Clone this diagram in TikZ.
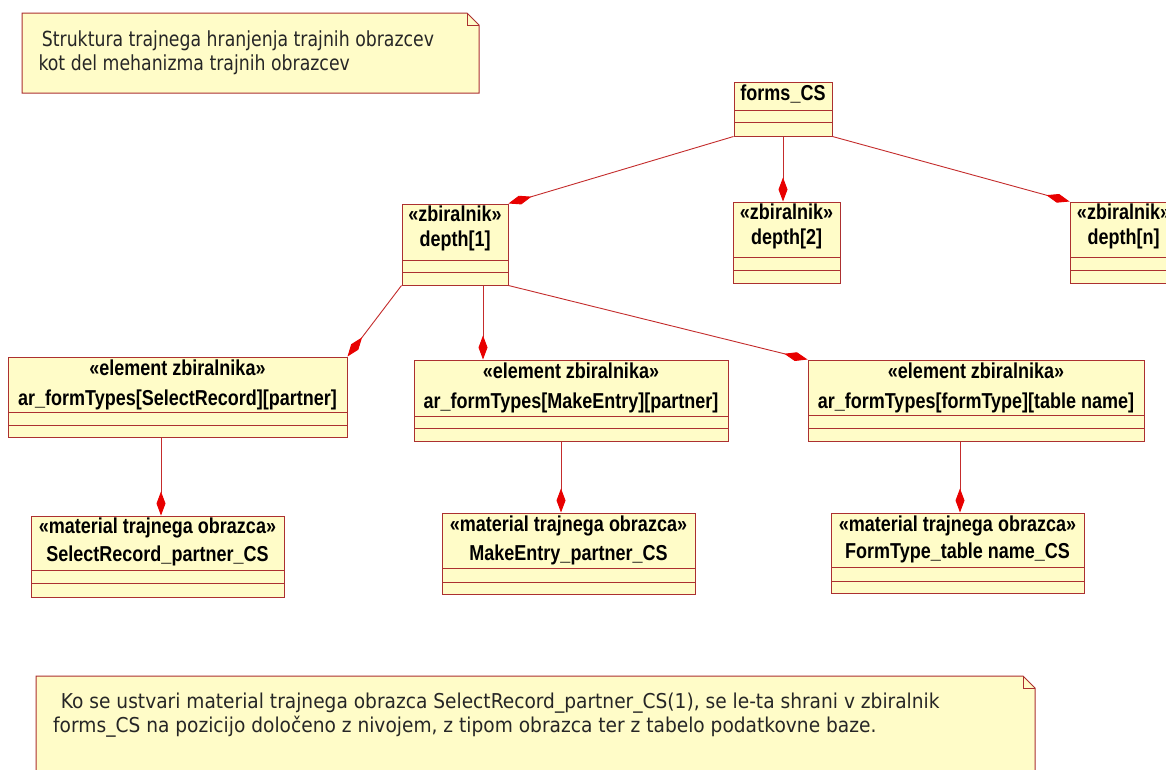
\documentclass[tikz,border=0pt]{standalone}
\usepackage{fontspec}
\usepackage{graphicx}
\setmainfont{DejaVu Sans}
\newfontfamily\umlfont{Liberation Sans}
\usetikzlibrary{arrows.meta,fit}

\definecolor{umlfill}{RGB}{255,252,200}
\definecolor{umlline}{RGB}{172,48,48}
\definecolor{linkred}{RGB}{196,44,44}
\definecolor{tipred}{RGB}{232,0,0}

% glyphs are drawn slightly taller than wide
\newcommand\tall[1]{\scalebox{1}[1.2]{#1}}
\newcommand\talllow[1]{\scalebox{1}[1.1]{#1}}

\tikzset{
  umlbox/.style={draw=umlline, fill=umlfill, line width=1pt, inner sep=0pt, rectangle},
  umlsep/.style={draw=umlline, line width=0.9pt},
  notebox/.style={draw=umlline, fill=umlfill, line width=1pt, line join=miter},
  notefold/.style={draw=umlline, line width=0.7pt},
  compo/.style={draw=linkred, line width=0.9pt,
    -{Diamond[length=24pt,width=9pt,color=tipred,fill=tipred]}},
  boxtext/.style={font=\umlfont\bfseries\fontsize{18}{22}\selectfont,
    inner sep=0pt, anchor=base, text=black},
  notetext/.style={font=\fontsize{17.3}{20}\selectfont,
    inner sep=0pt, anchor=base west, text=black!85},
  remarktext/.style={notetext, font=\fontsize{18.6}{22}\selectfont},
}

% class box: name, x1, y1, x2, y2, first and second compartment line
\newcommand\umlclass[7]{%
  \node[umlbox, fit={(#2,#3) (#4,#5)}] (#1) {};
  \draw[umlsep] (#2,#6) -- (#4,#6) (#2,#7) -- (#4,#7);
}
% note with a folded corner: name, x1, y1, x2, y2
\newcommand\umlnote[5]{%
  \path[notebox] (#2,#3) -- ({#4-12},#3) -- (#4,{#3+12}) -- (#4,#5) -- (#2,#5) -- cycle;
  \draw[notefold] ({#4-12},#3) -- ({#4-12},{#3+12}) -- (#4,{#3+12});
  \node[fit={(#2,#3) (#4,#5)}, inner sep=0pt] (#1) {};
}

\begin{document}
\begin{tikzpicture}[x=1pt,y=-1pt]
\useasboundingbox (0,0) rectangle (1166,769);
\clip (0,0) rectangle (1166,769);
\fill[white] (0,0) rectangle (1166,769);

% ---- notes
\umlnote{title}{22}{13}{479}{93}
\node[notetext] (title1) at (41.7,46.7) {\tall{Struktura trajnega hranjenja trajnih obrazcev}};
\node[notetext] (title2) at (38.3,70) {\tall{kot del mehanizma trajnih obrazcev}};

\umlnote{remark}{36}{676}{1035}{800}
\node[remarktext] (remark1) at (60.7,708.3) {\talllow{Ko se ustvari material trajnega obrazca SelectRecord\_partner\_CS(1), se le-ta shrani v zbiralnik}};
\node[remarktext] (remark2) at (53,732.7) {\talllow{forms\_CS na pozicijo določeno z nivojem, z tipom obrazca ter z tabelo podatkovne baze.}};

% ---- collection root
\umlclass{forms}{734}{82}{832}{136}{110}{122}
\node[boxtext] (formsN) at (783,100.5) {\tall{forms\_CS}};

% ---- depth levels
\umlclass{d1}{402}{204}{508}{285}{260}{272}
\node[boxtext] (d1s) at (455,221.7) {\tall{«zbiralnik»}};
\node[boxtext] (d1n) at (455,246.7) {\tall{depth[1]}};

\umlclass{d2}{733}{202}{840}{283}{257}{270}
\node[boxtext] (d2s) at (786.5,219.7) {\tall{«zbiralnik»}};
\node[boxtext] (d2n) at (786.5,244.7) {\tall{depth[2]}};

\umlclass{dn}{1070}{202}{1177}{283}{257}{270}
\node[boxtext] (dns) at (1123.5,219.7) {\tall{«zbiralnik»}};
\node[boxtext] (dnn) at (1123.5,244.7) {\tall{depth[n]}};

% ---- collection elements
\umlclass{e1}{8}{357}{347}{437}{412}{425}
\node[boxtext] (e1s) at (177.5,375) {\tall{«element zbiralnika»}};
\node[boxtext] (e1n) at (177.5,405) {\tall{ar\_formTypes[SelectRecord][partner]}};

\umlclass{e2}{414}{360}{728}{441}{416}{428}
\node[boxtext] (e2s) at (571,378.3) {\tall{«element zbiralnika»}};
\node[boxtext] (e2n) at (571,408.3) {\tall{ar\_formTypes[MakeEntry][partner]}};

\umlclass{e3}{808}{360}{1144}{441}{415}{428}
\node[boxtext] (e3s) at (976,378.3) {\tall{«element zbiralnika»}};
\node[boxtext] (e3n) at (976,408.3) {\tall{ar\_formTypes[formType][table name]}};

% ---- stored form material
\umlclass{m1}{31}{516}{284}{597}{570}{583}
\node[boxtext] (m1s) at (157.5,533.3) {\tall{«material trajnega obrazca»}};
\node[boxtext] (m1n) at (157.5,561.7) {\tall{SelectRecord\_partner\_CS}};

\umlclass{m2}{442}{513}{695}{594}{568}{582}
\node[boxtext] (m2s) at (568.5,531.7) {\tall{«material trajnega obrazca»}};
\node[boxtext] (m2n) at (568.5,560) {\tall{MakeEntry\_partner\_CS}};

\umlclass{m3}{831}{513}{1084}{593}{567}{581}
\node[boxtext] (m3s) at (957.5,531.7) {\tall{«material trajnega obrazca»}};
\node[boxtext] (m3n) at (957.5,558.3) {\tall{FormType\_table name\_CS}};

% ---- attachment columns of the vertical links
\coordinate (colA) at (783,0);
\coordinate (colB) at (483,0);
\coordinate (colC) at (161,0);
\coordinate (colD) at (561,0);
\coordinate (colE) at (960,0);

% ---- composition links
\draw[compo] (forms.south west) -- (d1.north east);
\draw[compo] (forms.south -| colA) -- (d2.north -| colA);
\draw[compo] (forms.south east) -- (dn.north west);

\draw[compo] (d1.south west) -- (e1.north east);
\draw[compo] (d1.south -| colB) -- (e2.north -| colB);
\draw[compo] (d1.south east) -- (e3.north west);

\draw[compo] (e1.south -| colC) -- (m1.north -| colC);
\draw[compo] (e2.south -| colD) -- (m2.north -| colD);
\draw[compo] (e3.south -| colE) -- (m3.north -| colE);
\end{tikzpicture}
\end{document}
